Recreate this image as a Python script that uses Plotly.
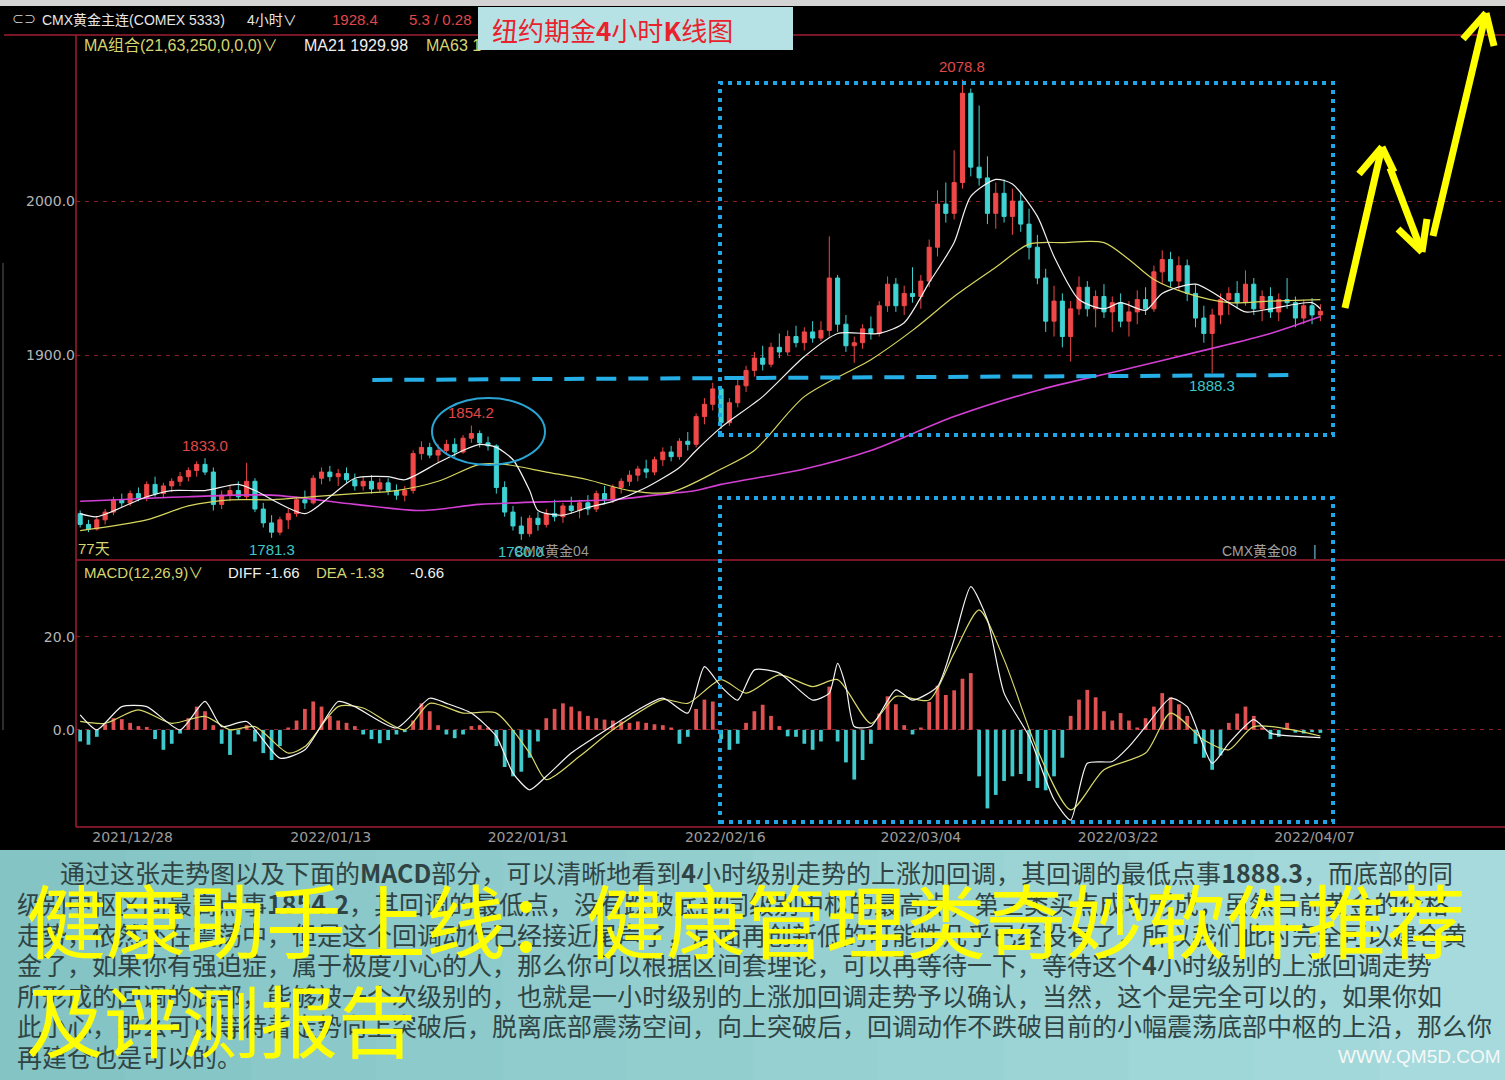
import plotly.graph_objects as go
from plotly.subplots import make_subplots

# ---------------- data ----------------
open_ = [1797,1790,1787,1793,1798,1806,1804,1810,1807,1816,
         1810,1815,1818,1821,1825,1829,1824,1803,1809,1812,
         1808,1818,1800,1791,1785,1793,1797,1806,1804,1820,
         1824,1821,1823,1819,1815,1818,1813,1817,1812,1809,
         1812,1836,1840,1835,1838,1842,1837,1846,1849,1843,
         1841,1814,1798,1789,1784,1794,1790,1797,1795,1802,
         1799,1804,1800,1810,1806,1814,1818,1822,1826,1824,
         1832,1837,1834,1844,1842,1860,1868,1878,1856,1869,
         1880,1890,1898,1894,1905,1902,1912,1908,1915,1911,
         1916,1950,1920,1906,1908,1917,1914,1932,1946,1932,
         1940,1938,1948,1970,1998,1992,2012,2070,2022,2015,
         1992,2005,1990,2000,1985,1970,1950,1922,1935,1912,
         1930,1944,1930,1938,1928,1934,1922,1928,1936,1930,
         1954,1962,1948,1958,1940,1924,1914,1926,1936,1940,
         1934,1946,1930,1938,1928,1936,1934,1924,1932,1926]
high = [1799,1793,1795,1800,1808,1810,1812,1814,1818,1821,
        1817,1820,1824,1827,1831,1833.0,1827,1812,1815,1818,
        1830,1820,1804,1796,1795,1800,1808,1812,1822,1827,
        1828,1826,1827,1823,1821,1822,1820,1820,1816,1815,
        1838,1844,1843,1842,1845,1846,1848,1854.2,1851,1847,
        1842,1818,1802,1795,1796,1798,1800,1806,1804,1808,
        1806,1809,1812,1815,1816,1820,1825,1828,1832,1834,
        1840,1841,1846,1850,1862,1872,1882,1880,1872,1884,
        1893,1902,1906,1908,1914,1916,1919,1918,1922,1922,
        1977,1952,1926,1912,1920,1925,1935,1951,1950,1945,
        1957,1952,1975,2007,2012,2033,2078.8,2073,2062,2029,
        2012,2014,2008,2006,1995,1978,1956,1945,1940,1935,
        1951,1948,1942,1946,1938,1940,1935,1942,1944,1958,
        1968,1967,1964,1962,1946,1932,1930,1940,1944,1948,
        1955,1950,1942,1944,1940,1950,1938,1936,1937,1933]
low = [1788,1785,1786,1790,1796,1801,1802,1805,1805,1808,
       1807,1811,1815,1818,1821,1822,1799,1800,1805,1806,
       1806,1798,1788,1781.3,1783,1787,1795,1800,1803,1816,
       1818,1815,1817,1812,1812,1810,1811,1809,1806,1805,
       1810,1832,1833,1830,1835,1834,1836,1843,1840,1838,
       1810,1795,1786,1780.0,1782,1786,1788,1792,1791,1797,
       1794,1796,1798,1803,1804,1810,1815,1818,1820,1822,
       1828,1831,1832,1838,1840,1855,1864,1852,1854,1866,
       1876,1886,1890,1892,1898,1900,1905,1903,1908,1909,
       1912,1915,1902,1895,1904,1910,1912,1928,1928,1926,
       1934,1930,1944,1964,1986,1988,2008,2016,2010,1985,
       1982,1986,1978,1980,1962,1946,1915,1912,1905,1895.8,
       1926,1925,1918,1924,1915,1918,1912,1920,1926,1928,
       1946,1944,1942,1935,1918,1908,1888.3,1920,1926,1930,
       1932,1926,1922,1924,1922,1930,1918,1920,1920,1922]
close = [1790,1787,1793,1798,1806,1804,1810,1807,1816,1810,
         1815,1818,1821,1825,1829,1824,1803,1809,1812,1808,
         1818,1800,1791,1785,1793,1797,1806,1804,1820,1824,
         1821,1823,1819,1815,1818,1813,1817,1812,1809,1812,
         1836,1840,1835,1838,1842,1837,1846,1849,1843,1841,
         1814,1798,1789,1784,1794,1790,1797,1795,1802,1799,
         1804,1800,1810,1806,1814,1818,1822,1826,1824,1832,
         1837,1834,1844,1842,1860,1868,1878,1856,1869,1880,
         1890,1898,1894,1905,1902,1912,1908,1915,1911,1916,
         1950,1920,1906,1908,1917,1914,1932,1946,1932,1940,
         1938,1948,1970,1998,1992,2012,2070,2022,2015,1992,
         2005,1990,2000,1985,1970,1950,1922,1935,1912,1930,
         1944,1930,1938,1928,1934,1922,1928,1936,1930,1954,
         1962,1948,1958,1940,1924,1914,1926,1936,1940,1934,
         1946,1930,1938,1928,1936,1934,1924,1932,1926,1928.4]

ma21_x = [0,2,8,11,15,19,21,27,30,33,37,39,43,46,48,50,52,54,55,58,61,64,68,72,74,77,
          82,87,91,96,99,102,105,107,110,112,115,117,120,123,125,128,130,134,138,140,143,148,149]
ma21_y = [1797,1795,1808,1812,1812,1816,1812,1797,1808,1820,1821,1819,1830,1838,1842,1840,1832,1812,1799,1796,1801,1805,1814,1827,1838,1853,
          1873,1899,1914,1914,1921,1947,1973,2003,2014,2011,1990,1964,1936,1930,1934,1929,1940,1946,1934,1928,1930,1934,1930]
ma63_x = [0,8,13,18,23,28,33,38,43,48,51,56,61,66,71,77,81,87,95,100,105,110,114,118,123,126,129,133,138,143,149]
ma63_y = [1786,1793,1802,1806,1806,1808,1810,1812,1818,1829,1829,1824,1819,1812,1811,1826,1838,1873,1897,1916,1938,1957,1972,1973,1973,1962,1949,1940,1934,1935,1936]
ma250_x = [0,13,23,33,41,48,58,64,69,74,77,87,95,105,115,125,135,143,149]
ma250_y = [1805,1808,1809,1803,1799,1803,1805,1806,1809,1812,1816,1826,1838,1860,1877,1890,1903,1914,1925]

macd_hist = [-2.5,-3.2,-1.5,1.2,2.5,2.3,1.5,0.8,0.6,-2.0,
             -4.3,-3.0,-0.8,2.5,5.0,4.0,1.0,-3.0,-5.4,-1.0,
             1.0,-2.5,-5.0,-6.5,-3.5,0.5,2.0,4.5,6.1,5.0,
             3.0,2.0,1.5,0.8,-1.0,-2.0,-2.9,-2.2,-1.0,-0.5,
             2.0,5.7,4.0,1.0,-1.0,-1.8,-1.0,0.8,1.0,0.5,
             -3.5,-8.0,-10.0,-9.0,-6.0,-2.5,2.5,4.5,5.7,5.0,
             4.0,3.0,2.5,2.2,2.0,1.8,1.5,1.8,1.5,1.2,
             1.0,0.5,-3.0,-1.5,4.5,6.5,6.1,-2.0,-4.3,-3.0,
             1.5,4.0,5.4,3.0,0.8,-1.4,-1.5,-3.0,-4.3,-2.5,
             9.3,-2.5,-7.0,-10.7,-6.5,-3.0,3.5,7.2,5.5,1.0,
             -1.0,0.5,6.0,9.5,7.5,8.5,11.0,12.2,-10.0,-16.9,
             -14.0,-11.0,-10.0,-9.5,-11.0,-12.5,-13.0,-10.0,-6.0,3.0,
             6.5,8.6,7.0,4.0,2.0,3.6,2.0,0.5,2.5,5.0,
             7.9,7.0,5.5,3.0,-3.0,-6.0,-8.6,-5.5,1.5,3.5,
             5.0,3.0,0.5,-2.0,-1.5,1.5,-0.6,-0.8,-0.5,-0.66]
diff_x = [0,2,5,8,12,15,17,20,24,27,31,33,38,42,44,47,50,52,54,56,59,62,66,70,73,75,77,79,81,84,88,90,91,92,93,95,
          98,100,103,105,107,109,111,114,117,119,121,124,126,128,131,133,136,138,141,143,149]
diff_y = [3.2,0.0,5.0,5.0,0.0,6.1,0.7,1.8,-6.1,-4.3,6.1,5.0,0.4,6.8,5.7,3.6,-1.4,-9.3,-12.9,-10.0,-5.0,-1.4,3.2,6.8,3.6,13.6,9.3,6.4,12.9,12.2,6.4,7.9,14.3,9.3,0.7,0.7,
          8.6,6.4,9.3,19.4,30.8,23.7,7.9,-1.4,-15.0,-19.4,-7.2,-6.8,-3.6,0.7,6.8,5.0,-7.2,-2.9,2.2,-0.7,-1.66]
dea_x = [0,3,7,11,15,18,21,25,27,31,34,39,42,46,50,54,56,60,64,70,73,77,80,84,88,91,95,98,102,105,108,111,115,119,123,128,131,135,138,141,149]
dea_y = [1.8,1.4,4.3,1.4,2.9,0.0,0.7,-5.0,-3.6,5.0,4.7,0.0,5.7,3.6,3.6,-5.0,-10.7,-5.7,0.0,6.5,5.7,10.8,7.9,11.8,9.3,10.8,1.4,7.2,6.4,16.5,25.8,15.1,-4.3,-17.2,-8.6,-5.0,3.6,-2.2,-4.3,0.7,-1.33]

date_labels = ["2021/12/28", "2022/01/13", "2022/01/31", "2022/02/16", "2022/03/04", "2022/03/22", "2022/04/07"]
date_pos = [6.3, 30.1, 53.8, 77.5, 101.0, 124.7, 148.3]

peak_idx = [15, 47, 106]
trough_idx = [23, 53, 136]

body_lines = [
    "通过这张走势图以及下面的<b>MACD</b>部分，可以清晰地看到<b>4</b>小时级别走势的上涨加回调，其回调的最低点事<b>1888.3</b>，而底部的同",
    "级别中枢区间最高点事<b>1854.2</b>，其回调的最低点，没有跌破底部同级别中枢的最高点，第三类买点成功形成，虽然目前黄金的价格",
    "走势，依然还在震荡中，但是这个回调动作已经接近尾声了，后面再创新低的可能性几乎已经没有了，所以我们此时完全可以建仓黄",
    "金了，如果你有强迫症，属于极度小心的人，那么你可以根据区间套理论，可以再等待一下，等待这个<b>4</b>小时级别的上涨回调走势",
    "所形成的回调的底部，能够被一个次级别的，也就是一小时级别的上涨加回调走势予以确认，当然，这个是完全可以的，如果你如",
    "此小心，那么可以等待着走势向上突破后，脱离底部震荡空间，向上突破后，回调动作不跌破目前的小幅震荡底部中枢的上沿，那么你",
    "再建仓也是可以的。",
]

# ---------------- styling ----------------
RED = "#f04848"
CYAN = "#3fd3d3"
HRED = "#e05252"
HCYAN = "#3fc9cc"
GRID = "#8a1f24"
BORDER = "#a01e30"
FONT = "Liberation Sans, Noto Sans CJK SC, sans-serif"
CJK = "Noto Sans CJK SC, sans-serif"

W, H = 1505, 1080
L, R, T, B = 76, 4, 35, 253
PW, PH = W - L - R, H - T - B


def PX(p):
    return (p - L) / PW


def PY(p):
    return (H - B - p) / PH


idx = list(range(len(close)))

fig = make_subplots(rows=2, cols=1, shared_xaxes=True, vertical_spacing=0.0)

fig.add_trace(go.Candlestick(
    x=idx, open=open_, high=high, low=low, close=close,
    increasing=dict(line=dict(color=RED, width=1), fillcolor=RED),
    decreasing=dict(line=dict(color=CYAN, width=1), fillcolor=CYAN),
    whiskerwidth=0, showlegend=False, hoverinfo="skip"), row=1, col=1)

fig.add_trace(go.Scatter(x=ma250_x, y=ma250_y, mode="lines",
                         line=dict(color="#d23fd2", width=1.6, shape="spline", smoothing=0.8),
                         showlegend=False, hoverinfo="skip"), row=1, col=1)
fig.add_trace(go.Scatter(x=ma63_x, y=ma63_y, mode="lines",
                         line=dict(color="#d6d65e", width=1.2, shape="spline", smoothing=0.8),
                         showlegend=False, hoverinfo="skip"), row=1, col=1)
fig.add_trace(go.Scatter(x=ma21_x, y=ma21_y, mode="lines",
                         line=dict(color="#f2f2f2", width=1.2, shape="spline", smoothing=0.7),
                         showlegend=False, hoverinfo="skip"), row=1, col=1)

fig.add_trace(go.Bar(x=idx, y=macd_hist, width=0.45,
                     marker=dict(color=[HRED if v >= 0 else HCYAN for v in macd_hist], line=dict(width=0)),
                     showlegend=False, hoverinfo="skip"), row=2, col=1)
fig.add_trace(go.Scatter(x=dea_x, y=dea_y, mode="lines",
                         line=dict(color="#d8d86a", width=1.2, shape="spline", smoothing=0.7),
                         showlegend=False, hoverinfo="skip"), row=2, col=1)
fig.add_trace(go.Scatter(x=diff_x, y=diff_y, mode="lines",
                         line=dict(color="#f4f4f4", width=1.2, shape="spline", smoothing=0.6),
                         showlegend=False, hoverinfo="skip"), row=2, col=1)

xr = [-0.5, 170.7]
fig.update_layout(
    width=W, height=H, margin=dict(l=L, r=R, t=T, b=B, autoexpand=False),
    paper_bgcolor="#000000", plot_bgcolor="#000000", showlegend=False,
    xaxis=dict(range=xr, showgrid=False, zeroline=False, showticklabels=False,
               rangeslider=dict(visible=False), showline=False, ticks=""),
    xaxis2=dict(range=xr, showgrid=False, zeroline=False, showline=False, ticks="",
                tickmode="array", tickvals=date_pos, ticktext=date_labels,
                tickfont=dict(family="DejaVu Sans, sans-serif", size=14, color="#9c9c9c")),
    yaxis=dict(domain=[(H - B - 560) / PH, 1], range=[1766.9, 2107.8],
               tickmode="array", tickvals=[1900, 2000], tickformat=".1f",
               tickfont=dict(family="DejaVu Sans, sans-serif", size=14, color="#b4b4b4"),
               showgrid=True, gridcolor=GRID, griddash="4px,5px", gridwidth=1,
               zeroline=False, showline=False, ticks=""),
    yaxis2=dict(domain=[0, (H - B - 562) / PH], range=[-20.9, 36.1],
                tickmode="array", tickvals=[0, 20], ticktext=["0.0", "20.0"],
                tickfont=dict(family="DejaVu Sans, sans-serif", size=14, color="#b4b4b4"),
                showgrid=True, gridcolor=GRID, griddash="4px,5px", gridwidth=1,
                zeroline=False, showline=False, ticks=""),
)

shapes = []


def prect(x0, y0, x1, y1, fill, line=None, layer="above"):
    shapes.append(dict(type="rect", xref="paper", yref="paper",
                       x0=PX(x0), x1=PX(x1), y0=PY(y0), y1=PY(y1),
                       fillcolor=fill, line=line or dict(width=0), layer=layer))


def pline(x0, y0, x1, y1, color, width=1, dash=None):
    shapes.append(dict(type="line", xref="paper", yref="paper",
                       x0=PX(x0), x1=PX(x1), y0=PY(y0), y1=PY(y1),
                       line=dict(color=color, width=width, dash=dash), layer="above"))


# window frame
prect(0, 0, W, 6, "#d4d4d4")
pline(4, 35, W, 35, BORDER, 1.5)
pline(L, 560, W, 560, BORDER, 1.5)
pline(L, 827, W, 827, BORDER, 1.5)
pline(L, 35, L, 827, BORDER, 1.5)
pline(3, 263, 3, 730, "#5a5a5a", 1)

# dotted analysis boxes
BLUE = "#1ea6e6"
shapes.append(dict(type="rect", xref="paper", yref="paper", x0=PX(720), x1=PX(1333), y0=PY(435), y1=PY(83),
                   line=dict(color=BLUE, width=4, dash="4px,5px"), fillcolor="rgba(0,0,0,0)", layer="above"))
shapes.append(dict(type="rect", xref="paper", yref="paper", x0=PX(720), x1=PX(1333), y0=PY(822), y1=PY(498),
                   line=dict(color=BLUE, width=4, dash="4px,5px"), fillcolor="rgba(0,0,0,0)", layer="above"))
# ellipse around the 1854.2 high
shapes.append(dict(type="circle", xref="paper", yref="paper", x0=PX(432), x1=PX(545), y0=PY(465), y1=PY(398),
                   line=dict(color="#2aa4d4", width=2), layer="above"))
# dashed support line (data coords)
shapes.append(dict(type="line", xref="x", yref="y", x0=35.1, x1=146.2, y0=1883.8, y1=1887.0,
                   line=dict(color="#26aee6", width=4, dash="20px,12px"), layer="above"))

# yellow zig-zag arrows
YEL = "#ffff00"
for (tail, tip, a1, a2) in [((1345, 308), (1382, 147), (1359, 174), (1394, 172)),
                            ((1390, 168), (1422, 252), (1398, 229), (1427, 219)),
                            ((1433, 236), (1486, 13), (1463, 39), (1494, 46))]:
    pline(tail[0], tail[1], tip[0], tip[1], YEL, 7)
    pline(a1[0], a1[1], tip[0], tip[1], YEL, 7)
    pline(a2[0], a2[1], tip[0], tip[1], YEL, 7)

# title box
prect(478, 7, 793, 50, "#b6e2e6")

# bottom teal text panel (slight horizontal gradient in strips)
n = 12
c0, c1 = (132, 196, 197), (166, 218, 220)
for k in range(n):
    t = k / (n - 1)
    col = tuple(int(c0[j] + (c1[j] - c0[j]) * t) for j in range(3))
    prect(k * W / n, 850, (k + 1) * W / n + 1, H, "rgb(%d,%d,%d)" % col)

fig.update_layout(shapes=shapes)

anns = []


def pann(px, py, text, color, size, family=FONT, xanchor="left", yanchor="middle"):
    anns.append(dict(xref="paper", yref="paper", x=PX(px), y=PY(py), text=text, showarrow=False,
                     font=dict(family=family, size=size, color=color), xanchor=xanchor, yanchor=yanchor))


# header rows
pann(10, 20, "⊂⊃", "#d8d8d8", 12)
pann(40, 20, "CMX黄金主连(COMEX 5333)", "#e6e6e6", 14)
pann(245, 20, "4小时∨", "#e6e6e6", 14)
pann(330, 20, "1928.4", "#e04848", 15)
pann(407, 20, "5.3 / 0.28", "#e04848", 15)
pann(82, 46, "MA组合(21,63,250,0,0,0)∨", "#d6d670", 16)
pann(302, 46, "MA21 1929.98", "#f0f0f0", 16)
pann(424, 46, "MA63 1", "#d6d670", 16)
pann(612, 29, "纽约期金<b>4</b>小时<b>K</b>线图", "#e8232e", 26, family=CJK, xanchor="center")

# MACD header
pann(82, 572, "MACD(12,26,9)∨", "#d6d670", 15)
pann(226, 572, "DIFF -1.66", "#f0f0f0", 15)
pann(314, 572, "DEA -1.33", "#d6d670", 15)
pann(408, 572, "-0.66", "#f0f0f0", 15)

# price panel small texts
pann(76, 548, "77天", "#d6d670", 15)
pann(512, 551, "CMX黄金04", "#9a9a9a", 14)
pann(1220, 551, "CMX黄金08", "#a0a0a0", 14)
pann(1315, 551, "|", "#a0a0a0", 14, xanchor="center")

# high / low value labels, anchored on the data
for i in peak_idx:
    anns.append(dict(xref="x", yref="y", x=i, y=high[i], yshift=13, text="%.1f" % high[i], showarrow=False,
                     font=dict(family=FONT, size=15, color="#e04848"), xanchor="center", yanchor="middle"))
for i in trough_idx:
    anns.append(dict(xref="x", yref="y", x=i, y=low[i], yshift=-12, text="%.1f" % low[i], showarrow=False,
                     font=dict(family=FONT, size=15, color="#3cc8c8"), xanchor="center", yanchor="middle"))

# bottom article text
line_y = [872, 903, 934, 964, 995, 1025, 1056]
for k, (txt, yy) in enumerate(zip(body_lines, line_y)):
    pann(58 if k == 0 else 15, yy, txt, "#304444", 25, family=CJK)

# big yellow overlay title
pann(24, 917, "健康助手上线：健康管理类奇妙软件推荐", "#ffff00", 80, family=CJK)
pann(24, 1018, "及评测报告", "#ffff00", 78, family=CJK)
pann(1503, 1056, "WWW.QM5D.COM", "#f4f8f8", 19, xanchor="right")

fig.update_layout(annotations=anns)

fig.write_html("out.html",
               config={"displayModeBar": False},
               post_script="document.body.style.margin='0';document.body.style.background='#000';"
                           "document.documentElement.style.overflow='hidden';")
